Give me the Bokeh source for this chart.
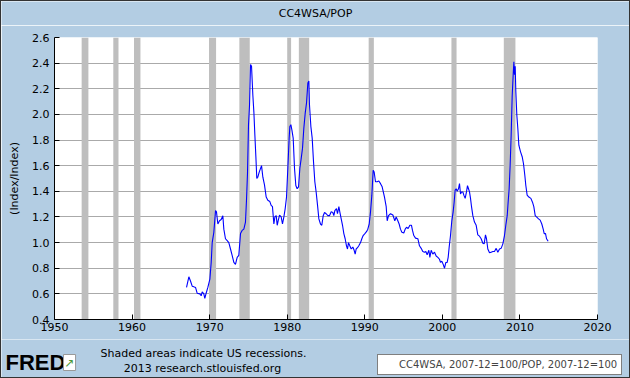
from bokeh.plotting import figure
from bokeh.layouts import column
from bokeh.models import (FixedTicker, NumeralTickFormatter, Label, Legend, LegendItem,
                          Range1d, ColumnDataSource)
from bokeh.embed import file_html
from bokeh.resources import INLINE

# ---- data ----
years = [
    1967.02, 1967.32, 1967.53, 1967.75, 1967.96, 1968.18, 1968.39, 1968.74, 1968.91, 1969.04,
    1969.25, 1969.38, 1969.55, 1969.77, 1970.03, 1970.20, 1970.33, 1970.54, 1970.76, 1970.88,
    1971.06, 1971.27, 1971.49, 1971.70, 1971.83, 1972.04, 1972.26, 1972.47, 1972.69, 1972.90,
    1973.12, 1973.33, 1973.55, 1973.76, 1973.98, 1974.19, 1974.41, 1974.62, 1974.75, 1974.88,
    1975.01, 1975.14, 1975.27, 1975.40, 1975.57, 1975.70, 1975.83, 1975.96, 1976.08, 1976.21,
    1976.39, 1976.69, 1976.86, 1977.07, 1977.29, 1977.50, 1977.76, 1977.93, 1978.10, 1978.28,
    1978.41, 1978.58, 1978.71, 1978.83, 1979.01, 1979.22, 1979.39, 1979.57, 1979.74, 1979.91,
    1980.08, 1980.25, 1980.34, 1980.47, 1980.60, 1980.77, 1980.94, 1981.11, 1981.28, 1981.46,
    1981.63, 1981.80, 1981.97, 1982.14, 1982.32, 1982.49, 1982.66, 1982.79, 1982.87, 1983.05,
    1983.22, 1983.39, 1983.56, 1983.73, 1983.91, 1984.08, 1984.29, 1984.46, 1984.64, 1984.81,
    1985.02, 1985.24, 1985.45, 1985.67, 1985.88, 1986.01, 1986.14, 1986.35, 1986.48, 1986.66,
    1986.78, 1986.96, 1987.13, 1987.30, 1987.47, 1987.64, 1987.77, 1987.90, 1988.07, 1988.25,
    1988.46, 1988.63, 1988.76, 1988.89, 1989.06, 1989.23, 1989.45, 1989.62, 1989.79, 1990.01,
    1990.22, 1990.39, 1990.57, 1990.74, 1990.91, 1991.08, 1991.21, 1991.38, 1991.60, 1991.81,
    1992.03, 1992.24, 1992.54, 1992.76, 1992.89, 1993.06, 1993.32, 1993.62, 1993.87, 1994.05,
    1994.26, 1994.43, 1994.60, 1994.78, 1995.03, 1995.21, 1995.38, 1995.59, 1995.81, 1996.02,
    1996.15, 1996.32, 1996.54, 1996.84, 1997.05, 1997.27, 1997.48, 1997.70, 1997.87, 1998.04,
    1998.26, 1998.39, 1998.56, 1998.77, 1998.99, 1999.20, 1999.42, 1999.63, 1999.76, 1999.93,
    2000.11, 2000.28, 2000.45, 2000.62, 2000.75, 2000.88, 2001.05, 2001.22, 2001.39, 2001.52,
    2001.65, 2001.78, 2001.91, 2002.08, 2002.21, 2002.34, 2002.47, 2002.64, 2002.77, 2002.94,
    2003.11, 2003.24, 2003.37, 2003.50, 2003.63, 2003.76, 2003.93, 2004.14, 2004.36, 2004.57,
    2004.79, 2005.00, 2005.22, 2005.39, 2005.56, 2005.69, 2005.86, 2006.08, 2006.29, 2006.51,
    2006.72, 2006.94, 2007.15, 2007.37, 2007.58, 2007.80, 2008.01, 2008.18, 2008.36, 2008.48,
    2008.61, 2008.74, 2008.87, 2009.00, 2009.13, 2009.22, 2009.30, 2009.39, 2009.47, 2009.60,
    2009.73, 2009.86, 2010.07, 2010.29, 2010.46, 2010.63, 2010.76, 2010.93, 2011.15, 2011.41,
    2011.62, 2011.79, 2011.97, 2012.14, 2012.40, 2012.61, 2012.82, 2013.00, 2013.13, 2013.30,
    2013.43, 2013.64,
]
values = [
    0.65, 0.733, 0.70, 0.66, 0.655, 0.65, 0.605, 0.60, 0.585, 0.615,
    0.60, 0.565, 0.605, 0.65, 0.715, 0.845, 1.00, 1.08, 1.25, 1.24,
    1.145, 1.17, 1.18, 1.21, 1.105, 1.03, 1.015, 1.00, 0.95, 0.90,
    0.845, 0.83, 0.885, 0.90, 1.07, 1.095, 1.105, 1.16, 1.33, 1.54,
    1.92, 2.07, 2.39, 2.375, 2.15, 2.02, 1.84, 1.67, 1.50, 1.51,
    1.55, 1.60, 1.51, 1.45, 1.355, 1.33, 1.32, 1.29, 1.28, 1.145,
    1.20, 1.21, 1.135, 1.17, 1.215, 1.20, 1.145, 1.20, 1.265, 1.355,
    1.58, 1.815, 1.905, 1.92, 1.88, 1.815, 1.58, 1.445, 1.42, 1.435,
    1.58, 1.655, 1.735, 1.89, 2.01, 2.09, 2.245, 2.26, 2.075, 1.905,
    1.815, 1.63, 1.475, 1.395, 1.29, 1.185, 1.145, 1.135, 1.21, 1.235,
    1.225, 1.21, 1.21, 1.24, 1.235, 1.21, 1.25, 1.265, 1.225, 1.28,
    1.24, 1.185, 1.135, 1.07, 1.03, 0.975, 0.95, 1.00, 0.975, 0.95,
    0.965, 0.94, 0.91, 0.95, 0.96, 0.975, 1.00, 1.03, 1.055, 1.07,
    1.085, 1.105, 1.145, 1.24, 1.37, 1.565, 1.55, 1.475, 1.475, 1.48,
    1.46, 1.435, 1.355, 1.28, 1.17, 1.21, 1.225, 1.215, 1.17, 1.20,
    1.17, 1.145, 1.105, 1.08, 1.075, 1.105, 1.12, 1.11, 1.135, 1.135,
    1.095, 1.055, 1.035, 1.03, 0.975, 0.955, 0.93, 0.925, 0.93, 0.905,
    0.94, 0.885, 0.94, 0.91, 0.925, 0.895, 0.885, 0.87, 0.845, 0.855,
    0.83, 0.80, 0.845, 0.845, 0.885, 0.965, 1.055, 1.17, 1.24, 1.315,
    1.41, 1.42, 1.40, 1.42, 1.46, 1.38, 1.395, 1.395, 1.37, 1.345,
    1.395, 1.445, 1.42, 1.395, 1.345, 1.28, 1.21, 1.16, 1.135, 1.06,
    1.05, 1.03, 0.995, 0.99, 1.06, 1.03, 0.95, 0.92, 0.925, 0.93,
    0.93, 0.955, 0.925, 0.95, 0.955, 0.99, 1.055, 1.135, 1.21, 1.315,
    1.42, 1.605, 1.84, 2.14, 2.31, 2.41, 2.31, 2.375, 2.18, 1.995,
    1.89, 1.76, 1.71, 1.67, 1.615, 1.525, 1.445, 1.37, 1.355, 1.345,
    1.315, 1.28, 1.21, 1.20, 1.185, 1.175, 1.145, 1.105, 1.07, 1.07,
    1.03, 1.01,
]
rec_start = [1953.50, 1957.58, 1960.25, 1969.92, 1973.83, 1980.00, 1981.50, 1990.50, 2001.17, 2007.92]
rec_end   = [1954.37, 1958.25, 1961.08, 1970.83, 1975.17, 1980.50, 1982.83, 1991.17, 2001.83, 2009.42]
x_ticks = [1950, 1960, 1970, 1980, 1990, 2000, 2010, 2020]
y_ticks = [0.4, 0.6, 0.8, 1.0, 1.2, 1.4, 1.6, 1.8, 2.0, 2.2, 2.4, 2.6]
title_text = "CC4WSA/POP"
y_label = "(Index/Index)"
series_label = "CC4WSA, 2007-12=100/POP, 2007-12=100"
note1 = "Shaded areas indicate US recessions."
note2 = "2013 research.stlouisfed.org"
logo_text = "FRED"

FONT = "DejaVu Sans"
BG = "#B3CDE3"
W = 628          # inner width (page minus 1px border on each side)
H_HEAD = 24
H_MAIN = 314
H_FOOT = 376 - H_HEAD - H_MAIN


def strip(height):
    s = figure(width=W, height=height, output_backend="svg", toolbar_location=None,
               x_range=Range1d(0, W), y_range=Range1d(0, height),
               x_axis_location=None, y_axis_location=None,
               min_border_left=0, min_border_right=0, min_border_top=0, min_border_bottom=0)
    s.frame_align = False
    s.background_fill_color = BG
    s.border_fill_color = BG
    s.outline_line_color = None
    s.grid.visible = False
    return s


# ---------------- header strip (title) ----------------
h = strip(H_HEAD)
h.add_layout(Label(x=314, y=H_HEAD - 12, x_units="screen", y_units="screen", text=title_text,
                   text_align="center", text_baseline="middle",
                   text_font=FONT, text_font_size="11px", text_color="black"))

# ---------------- main chart ----------------
p = figure(width=W, height=H_MAIN, output_backend="svg", toolbar_location=None,
           x_range=Range1d(x_ticks[0], x_ticks[-1]), y_range=Range1d(y_ticks[0], y_ticks[-1]),
           min_border_left=53, min_border_right=32, min_border_top=12, min_border_bottom=20)
p.frame_align = False
p.background_fill_color = "white"
p.border_fill_color = BG
p.outline_line_color = None

rec_src = ColumnDataSource(dict(left=rec_start, right=rec_end,
                                bottom=[y_ticks[0]] * len(rec_start),
                                top=[y_ticks[-1]] * len(rec_start)))
p.quad(left="left", right="right", bottom="bottom", top="top", source=rec_src,
       fill_color="#BEBEBE", line_color=None)

src = ColumnDataSource(dict(x=years, y=values))
p.line("x", "y", source=src, color="#0000FF", line_width=1.1)

p.xgrid.visible = False
p.ygrid.ticker = FixedTicker(ticks=y_ticks)
p.ygrid.grid_line_color = "#AAAAAA"
p.xaxis.ticker = FixedTicker(ticks=x_ticks)
p.yaxis.ticker = FixedTicker(ticks=y_ticks)
p.yaxis.formatter = NumeralTickFormatter(format="0.0")
for ax in (p.xaxis, p.yaxis):
    ax.major_tick_in = 5
    ax.major_tick_out = 0
    ax.minor_tick_line_color = None
    ax.axis_line_color = "black"
    ax.major_tick_line_color = "black"
    ax.major_label_text_font = FONT
    ax.major_label_text_font_size = "11px"
    ax.major_label_text_color = "black"
p.xaxis.major_label_standoff = 3
p.yaxis.major_label_standoff = 5
p.yaxis.axis_label = y_label
p.yaxis.axis_label_text_font = FONT
p.yaxis.axis_label_text_font_size = "11px"
p.yaxis.axis_label_text_font_style = "normal"
p.yaxis.axis_label_text_color = "black"
p.yaxis.axis_label_standoff = 8

# ---------------- footer strip ----------------
f = strip(H_FOOT)
f.add_layout(Label(x=202, y=H_FOOT - 14, x_units="screen", y_units="screen", text=note1,
                   text_align="center", text_baseline="middle",
                   text_font=FONT, text_font_size="11px", text_color="black"))
f.add_layout(Label(x=201, y=H_FOOT - 29, x_units="screen", y_units="screen", text=note2,
                   text_align="center", text_baseline="middle",
                   text_font=FONT, text_font_size="11px", text_color="black"))
f.add_layout(Label(x=4, y=H_FOOT - 23, x_units="screen", y_units="screen", text=logo_text,
                   text_align="left", text_baseline="middle",
                   text_font="Liberation Sans", text_font_style="bold",
                   text_font_size="22px", text_color="black"))
f.add_layout(Label(x=62, y=H_FOOT - 23, x_units="screen", y_units="screen", text="\u2197",
                   text_align="left", text_baseline="middle",
                   text_font=FONT, text_font_size="12px", text_color="#4A9A3A",
                   background_fill_color="white", border_line_color="#999999",
                   padding=1))

legend_r = f.line(x=[], y=[], color="#0000FF", line_width=2.5)
legend = Legend(items=[LegendItem(label=series_label, renderers=[legend_r])],
                location=(376, 2), border_line_color="black", border_line_width=1,
                background_fill_color="white", background_fill_alpha=1,
                label_text_font=FONT, label_text_font_size="10px",
                glyph_width=10, glyph_height=10, label_height=10,
                label_standoff=7, padding=4, margin=0, spacing=0)
f.add_layout(legend)

layout = column(h, p, f, spacing=0, styles={"border": "1px solid #333333"})
open("out.html", "w").write(file_html(layout, INLINE))
